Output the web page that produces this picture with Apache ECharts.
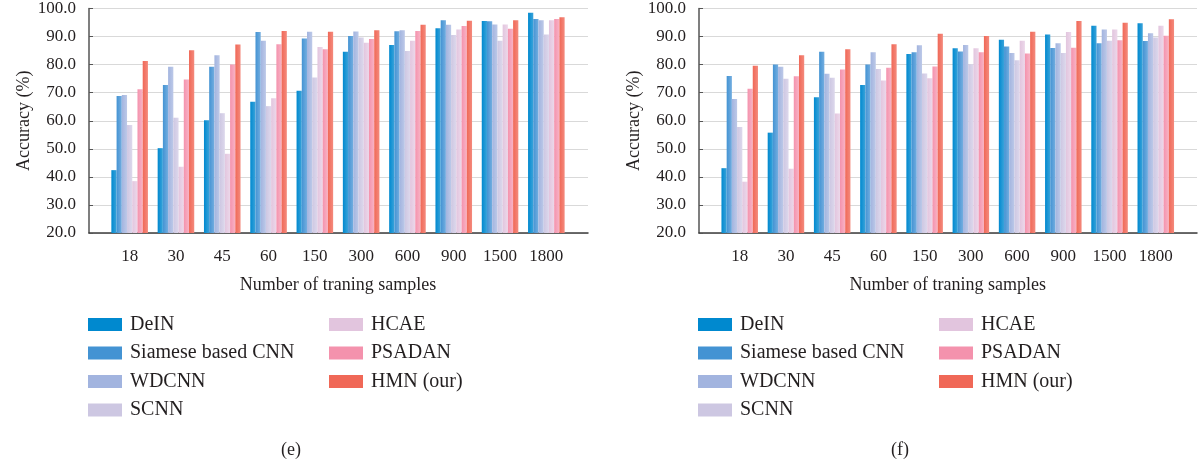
<!DOCTYPE html>
<html>
<head>
<meta charset="utf-8">
<script src="https://cdn.jsdelivr.net/npm/echarts@6/dist/echarts.min.js"></script>
<style>
  html, body { margin: 0; padding: 0; background: #fff; }
  #chart { width: 1202px; height: 464px; }
</style>
</head>
<body>
<div id="chart"></div>
<script>
// training sample counts (x categories), same for both panels
const categories = ['18', '30', '45', '60', '150', '300', '600', '900', '1500', '1800'];
const seriesNames = ['DeIN', 'Siamese based CNN', 'WDCNN', 'SCNN', 'HCAE', 'PSADAN', 'HMN (our)'];
const yTicks = [20, 30, 40, 50, 60, 70, 80, 90, 100];

// panel (e)
const deinE    = [42.3, 50.1, 60.0, 66.6, 70.5, 84.3, 86.7, 92.6, 95.2, 98.1];
const siameseE = [68.6, 72.5, 79.0, 91.3, 89.0, 89.9, 91.6, 95.5, 95.1, 95.9];
const wdcnnE   = [69.0, 79.0, 83.1, 88.2, 91.4, 91.5, 91.9, 93.9, 94.0, 95.5];
const scnnE    = [58.3, 60.9, 62.5, 65.0, 75.2, 89.4, 84.6, 90.2, 88.2, 90.4];
const hcaeE    = [38.4, 43.5, 48.1, 67.8, 86.0, 87.5, 88.2, 92.2, 94.0, 95.5];
const psadanE  = [71.0, 74.5, 79.8, 87.0, 85.2, 88.8, 91.7, 93.4, 92.5, 95.9];
const hmnE     = [81.0, 84.8, 86.9, 91.7, 91.4, 91.9, 93.9, 95.3, 95.5, 96.5];

// panel (f)
const deinF    = [43.0, 55.6, 68.2, 72.5, 83.5, 85.5, 88.6, 90.4, 93.5, 94.4];
const siameseF = [75.7, 79.8, 84.3, 79.8, 84.1, 84.4, 86.2, 85.6, 87.3, 88.1];
const wdcnnF   = [67.5, 79.0, 76.5, 84.1, 86.6, 86.7, 83.9, 87.3, 92.2, 90.9];
const scnnF    = [57.6, 74.7, 75.1, 78.2, 76.6, 79.9, 81.3, 83.9, 88.2, 89.4];
const hcaeF    = [38.2, 42.8, 62.4, 74.1, 74.9, 85.5, 88.2, 91.3, 92.2, 93.5];
const psadanF  = [71.2, 75.6, 78.0, 78.6, 79.1, 84.1, 83.7, 85.7, 88.4, 90.0];
const hmnF     = [79.3, 83.1, 85.2, 87.0, 90.7, 89.9, 91.4, 95.2, 94.6, 95.8];

const colors = ['#0089cf', '#4393d3', '#a2b4df', '#cdc7e2', '#e2c5de', '#f492ad', '#f06857'];
const lighter = ['#3aa3da', '#74aee0', '#bdc9e8', '#ddd8ec', '#ecd8ea', '#f8b3c5', '#f48a7d'];
const FONT = 'Liberation Serif';
const TXT = '#231f20';

const chart = echarts.init(document.getElementById('chart'));

const panels = [
  { data: [deinE, siameseE, wdcnnE, scnnE, hcaeE, psadanE, hmnE], axisX: 89, axisW: 499, barX: 106.5, barW: 463, tag: '(e)', tagX: 291, leg1: 88, leg2: 329 },
  { data: [deinF, siameseF, wdcnnF, scnnF, hcaeF, psadanF, hmnF], axisX: 699, axisW: 498, barX: 716.6, barW: 462.3, tag: '(f)', tagX: 900, leg1: 698, leg2: 939 }
];

const TOP = 7.5, HEIGHT = 225.5;
const grid = [], xAxis = [], yAxis = [], series = [], legend = [], title = [];

panels.forEach((p, pi) => {
  const gBase = grid.length;
  // frame grid: y axis, gridlines and the bottom line
  grid.push({ left: p.axisX, top: TOP, width: p.axisW, height: HEIGHT });
  // bars grid (narrower, the frame has empty room on both sides)
  grid.push({ left: p.barX, top: TOP, width: p.barW, height: HEIGHT });

  xAxis.push({
    gridIndex: gBase, type: 'value', min: 0, max: 1,
    axisLine: { show: true, lineStyle: { color: '#3c3c3c', width: 1.5 } },
    axisTick: { show: false }, axisLabel: { show: false }, splitLine: { show: false }
  });
  xAxis.push({
    gridIndex: gBase + 1, type: 'category', data: categories,
    axisLine: { show: false }, axisTick: { show: false },
    axisLabel: { fontFamily: FONT, fontSize: 17, color: TXT, margin: 15 },
    name: 'Number of traning samples', nameLocation: 'middle', nameGap: 43,
    nameTextStyle: { fontFamily: FONT, fontSize: 18, color: TXT }
  });
  yAxis.push({
    gridIndex: gBase, type: 'value', min: yTicks[0], max: yTicks[yTicks.length - 1], interval: 10,
    axisLine: { show: true, lineStyle: { color: '#555', width: 1.5 } },
    axisTick: { show: true, inside: true, length: 4, lineStyle: { color: '#555' } },
    axisLabel: { fontFamily: FONT, fontSize: 17, color: TXT, margin: 13, formatter: v => v.toFixed(1) },
    splitLine: { show: true, lineStyle: { color: '#d9d9d9', width: 1 } },
    name: 'Accuracy (%)', nameLocation: 'middle', nameGap: 56, nameRotate: 90,
    nameTextStyle: { fontFamily: FONT, fontSize: 18, color: TXT }
  });
  yAxis.push({
    gridIndex: gBase + 1, type: 'value', min: yTicks[0], max: yTicks[yTicks.length - 1], show: false
  });

  p.data.forEach((vals, si) => {
    series.push({
      name: seriesNames[si], type: 'bar',
      xAxisIndex: gBase + 1, yAxisIndex: gBase + 1,
      data: vals, barGap: 0, barCategoryGap: '21%',
      itemStyle: {
        color: new echarts.graphic.LinearGradient(0, 0, 1, 0, [
          { offset: 0, color: colors[si] },
          { offset: 1, color: lighter[si] }
        ])
      },
      emphasis: { disabled: true }
    });
  });

  const legStyle = { fontFamily: FONT, fontSize: 20, color: TXT, lineHeight: 20, padding: [0, 0, 0, 3] };
  const legItem = n => ({ name: n, itemStyle: { color: colors[seriesNames.indexOf(n)] } });
  legend.push({
    orient: 'vertical', left: p.leg1, top: 314.5, padding: 0, itemWidth: 34, itemHeight: 13, itemGap: 8.5,
    icon: 'rect', textStyle: legStyle, selectedMode: false,
    data: seriesNames.slice(0, 4).map(legItem)
  });
  legend.push({
    orient: 'vertical', left: p.leg2, top: 314.5, padding: 0, itemWidth: 34, itemHeight: 13, itemGap: 8.5,
    icon: 'rect', textStyle: legStyle, selectedMode: false,
    data: seriesNames.slice(4).map(legItem)
  });

  title.push({
    text: p.tag, left: p.tagX, top: 441, textAlign: 'center', padding: 0,
    textStyle: { fontFamily: FONT, fontSize: 18, fontWeight: 'normal', color: TXT }
  });
});

chart.setOption({
  animation: false,
  title: title,
  legend: legend,
  grid: grid,
  xAxis: xAxis,
  yAxis: yAxis,
  series: series
});
</script>
</body>
</html>
